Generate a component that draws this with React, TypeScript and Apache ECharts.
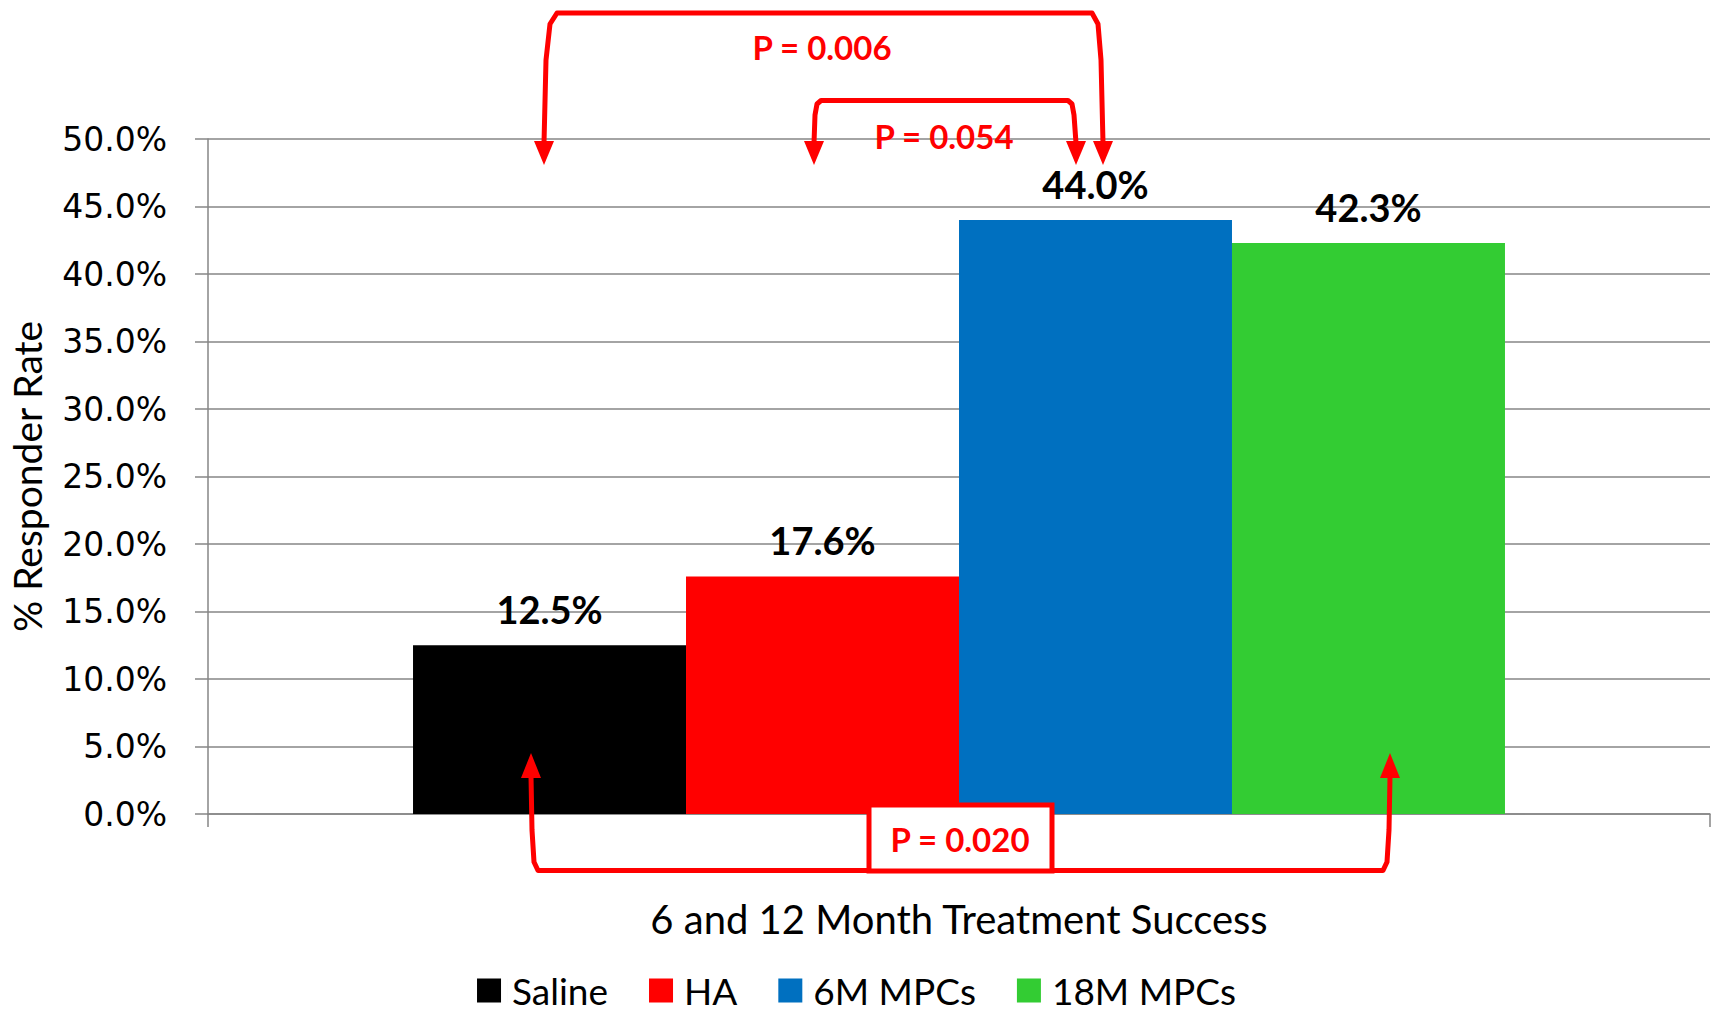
import React, { useEffect, useRef } from "react";
import * as echarts from "echarts";

const categories = ["6 and 12 Month Treatment Success"];
const seriesNames = ["Saline", "HA", "6M MPCs", "18M MPCs"];
const seriesValues = [12.5, 17.6, 44.0, 42.3];
const seriesColors = ["#000000", "#FF0000", "#0070C0", "#33CC33"];
const yTicks = { min: 0, max: 50, interval: 5 };
const pLabels = ["P = 0.006", "P = 0.054", "P = 0.020"];

const RED = "#FF0000";
const CAL = "Lato, 'Noto Sans', sans-serif";

function arrowHead(x: number, baseY: number, tipY: number) {
  return {
    type: "polygon",
    z: 100,
    shape: { points: [[x - 10, baseY], [x + 10, baseY], [x, tipY]] },
    style: { fill: RED },
  };
}

export default function App() {
  const ref = useRef<HTMLDivElement>(null);
  useEffect(() => {
    if (!ref.current) return;
    const chart = echarts.init(ref.current, null, { renderer: "svg" });
    const line = { stroke: RED, lineWidth: 5, fill: null as any, lineJoin: "round" };
    chart.setOption({
      animation: false,
      backgroundColor: "#ffffff",
      grid: { left: 208, right: 3, top: 139, bottom: 199, outerBoundsMode: "none", containLabel: false },
      legend: {
        data: seriesNames,
        left: "center",
        top: 972,
        padding: 0,
        icon: "path://M0,0H24V24H0Z M29.99,0H30V24H29.99Z",
        itemWidth: 30,
        itemHeight: 24,
        itemGap: 41,
        textStyle: { fontFamily: CAL, fontSize: 37, color: "#000" },
      },
      xAxis: {
        type: "category",
        data: categories,
        axisLine: { lineStyle: { color: "#868686", width: 1.5 } },
        axisTick: { show: true, length: 13, lineStyle: { color: "#868686", width: 1.5 } },
        axisLabel: { fontFamily: CAL, fontSize: 40, color: "#000", margin: 85 },
      },
      yAxis: {
        type: "value",
        min: yTicks.min,
        max: yTicks.max,
        interval: yTicks.interval,
        name: "% Responder Rate",
        nameLocation: "middle",
        nameGap: 162,
        nameTextStyle: { fontFamily: CAL, fontSize: 39, color: "#000" },
        axisLine: { show: true, lineStyle: { color: "#868686", width: 1.5 } },
        axisTick: { show: true, length: 13, lineStyle: { color: "#868686", width: 1.5 } },
        splitLine: { lineStyle: { color: "#868686", width: 1.5 } },
        axisLabel: {
          fontFamily: "'DejaVu Sans', sans-serif",
          fontSize: 33,
          color: "#000",
          margin: 41,
          formatter: (v: number) => v.toFixed(1) + "%",
        },
      },
      series: seriesNames.map((name, i) => ({
        name,
        type: "bar",
        data: [seriesValues[i]],
        barGap: "0%",
        barCategoryGap: "27.3%",
        itemStyle: { color: seriesColors[i] },
        label: {
          show: true,
          position: "top",
          distance: 17,
          fontFamily: CAL,
          fontWeight: "bold",
          fontSize: 38,
          color: "#000",
          formatter: (p: any) => p.value.toFixed(1) + "%",
        },
      })),
      graphic: [
        {
          type: "polyline",
          z: 100,
          shape: {
            points: [[544, 143], [546, 60], [550, 24], [557, 13], [1092, 13], [1098, 24], [1101, 60], [1103, 143]],
          },
          style: line,
        },
        arrowHead(544, 141, 165),
        arrowHead(1103, 141, 165),
        {
          type: "text",
          z: 100,
          x: 822,
          y: 47,
          style: { text: pLabels[0], fill: RED, font: `bold 33px ${CAL}`, align: "center", verticalAlign: "middle" },
        },
        {
          type: "polyline",
          z: 100,
          shape: {
            points: [[814, 143], [815, 115], [817, 104], [821, 100.5], [1068, 100.5], [1072, 104], [1074, 115], [1076, 143]],
          },
          style: line,
        },
        arrowHead(814, 141, 165),
        arrowHead(1076, 141, 165),
        {
          type: "text",
          z: 100,
          x: 944,
          y: 136,
          style: { text: pLabels[1], fill: RED, font: `bold 33px ${CAL}`, align: "center", verticalAlign: "middle" },
        },
        {
          type: "polyline",
          z: 100,
          shape: {
            points: [[531, 776], [532, 830], [534, 862], [538, 870.5], [1383, 870.5], [1387, 862], [1389, 830], [1390, 776]],
          },
          style: line,
        },
        arrowHead(531, 778, 753),
        arrowHead(1390, 778, 753),
        {
          type: "rect",
          z: 101,
          shape: { x: 869, y: 805, width: 183, height: 66 },
          style: { fill: "#ffffff", stroke: RED, lineWidth: 5 },
        },
        {
          type: "text",
          z: 102,
          x: 960,
          y: 839,
          style: { text: pLabels[2], fill: RED, font: `bold 33px ${CAL}`, align: "center", verticalAlign: "middle" },
        },
      ],
    });
    return () => chart.dispose();
  }, []);
  return <div ref={ref} style={{ position: "fixed", left: 0, top: 0, width: 1713, height: 1013 }} />;
}
